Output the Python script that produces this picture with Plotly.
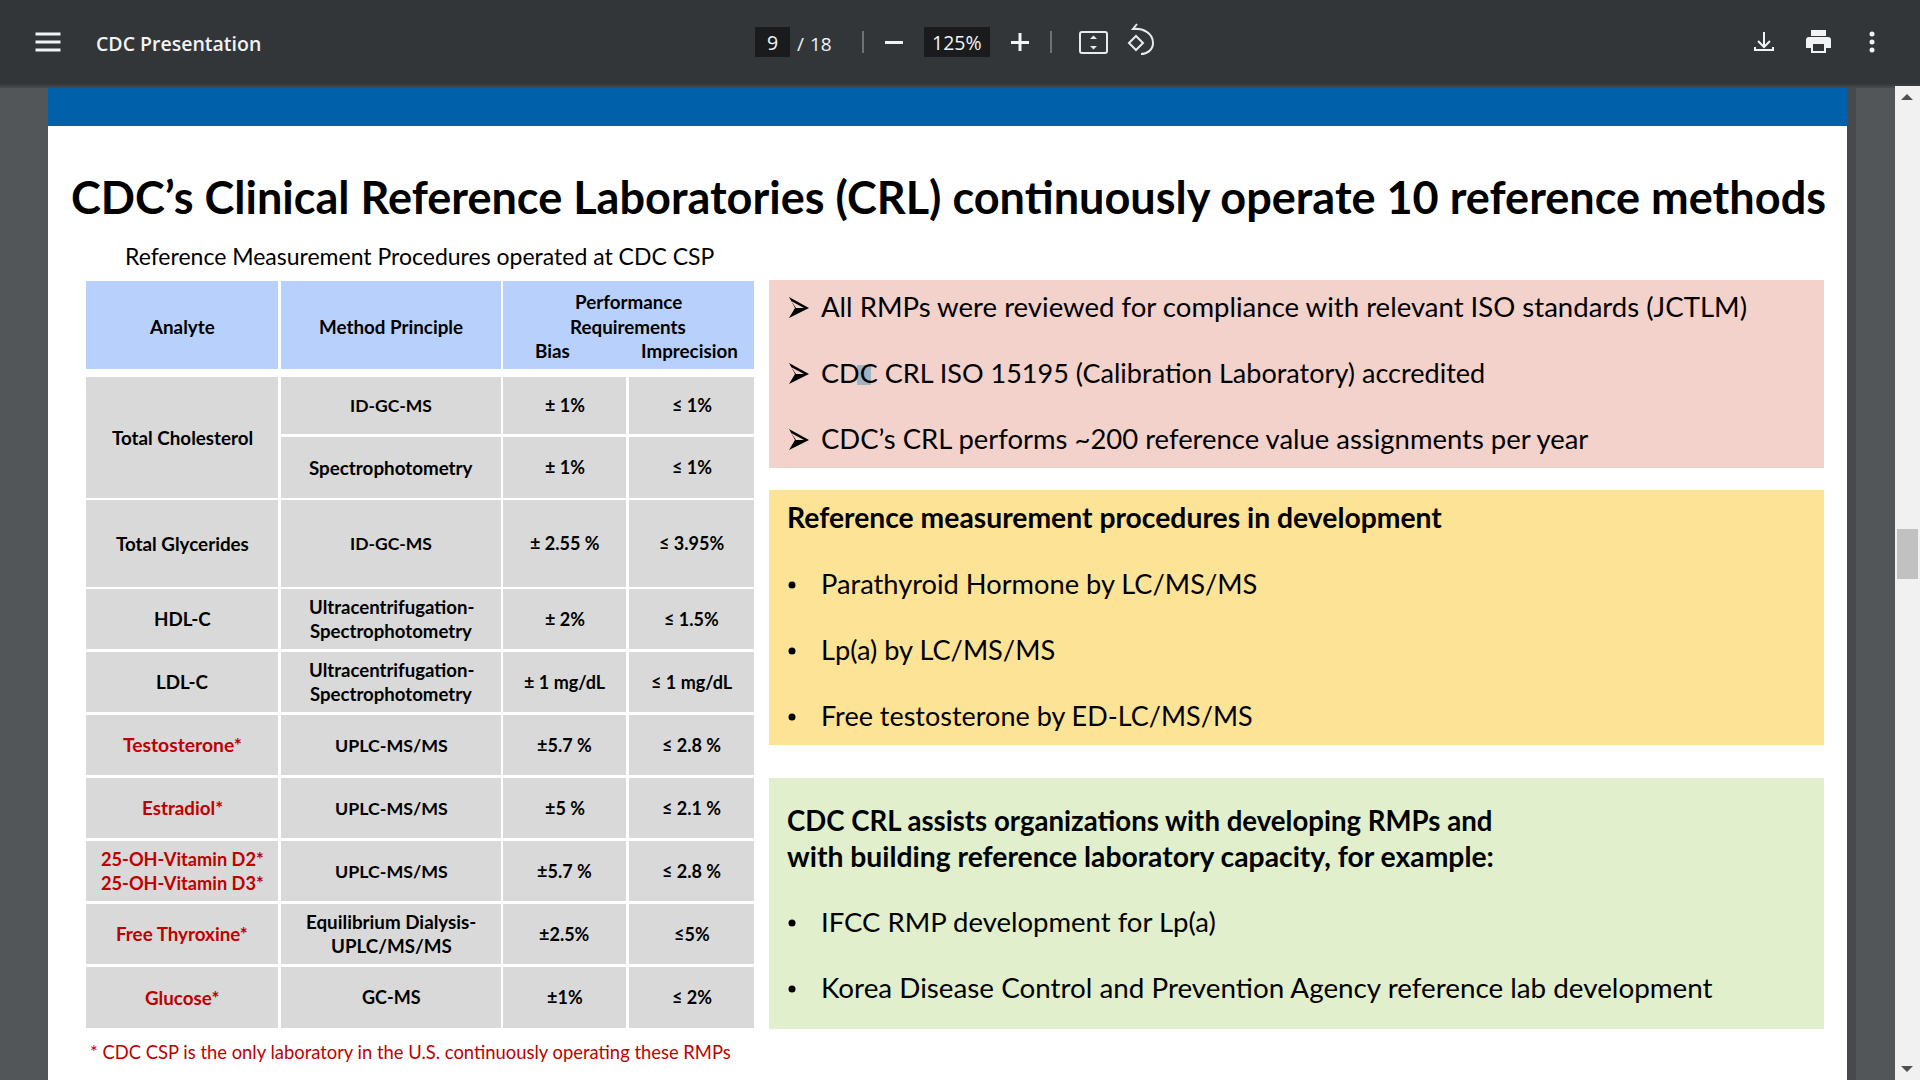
import plotly.graph_objects as go

FONT = "Lato"
UI_FONT = "Open Sans"

analytes = ["Total Cholesterol", "Total Glycerides", "HDL-C", "LDL-C", "Testosterone*", "Estradiol*",
            "25-OH-Vitamin D2*<br>25-OH-Vitamin D3*", "Free Thyroxine*", "Glucose*"]
analyte_rows = [(0, 1), (2, 2), (3, 3), (4, 4), (5, 5), (6, 6), (7, 7), (8, 8), (9, 9)]
methods = ["ID-GC-MS", "Spectrophotometry", "ID-GC-MS", "Ultracentrifugation-<br>Spectrophotometry",
           "Ultracentrifugation-<br>Spectrophotometry", "UPLC-MS/MS", "UPLC-MS/MS", "UPLC-MS/MS",
           "Equilibrium Dialysis-<br>UPLC/MS/MS", "GC-MS"]
bias = ["± 1%", "± 1%", "± 2.55 %", "± 2%", "± 1 mg/dL", "±5.7 %", "±5 %", "±5.7 %", "±2.5%", "±1%"]
imprecision = ["≤ 1%", "≤ 1%", "≤ 3.95%", "≤ 1.5%", "≤ 1 mg/dL", "≤ 2.8 %", "≤ 2.1 %", "≤ 2.8 %", "≤5%", "≤ 2%"]
n_black_analytes = 4

title = "CDC’s Clinical Reference Laboratories (CRL) continuously operate 10 reference methods"
subtitle = "Reference Measurement Procedures operated at CDC CSP"
footnote = "* CDC CSP is the only laboratory in the U.S. continuously operating these RMPs"
pink_items = ["All RMPs were reviewed for compliance with relevant ISO standards (JCTLM)",
              "CDC CRL ISO 15195 (Calibration Laboratory) accredited",
              "CDC’s CRL performs ~200 reference value assignments per year"]
yellow_head = "Reference measurement procedures in development"
yellow_items = ["Parathyroid Hormone by LC/MS/MS", "Lp(a) by LC/MS/MS", "Free testosterone by ED-LC/MS/MS"]
green_head = ["CDC CRL assists organizations with developing RMPs and",
              "with building reference laboratory capacity, for example:"]
green_items = ["IFCC RMP development for Lp(a)", "Korea Disease Control and Prevention Agency reference lab development"]

# page geometry, in screen pixels
COLS = [(86, 278), (281, 501), (503, 626), (629, 754)]
ROWS = [(377, 434), (437, 498), (500, 587), (589, 649), (652, 712), (715, 775), (778, 838), (841, 901), (904, 964),
        (967, 1028)]
PINK_Y = [308, 374, 440]
YELLOW_Y = [585, 651, 717]
GREEN_Y = [923, 989]

# Lato is not quite Calibri, so sizes are fitted per line to get the same widths
ANALYTE_SIZES = [18.8, 18.8, 18.8, 18.8, 19.3, 18.8, 18.2, 18.8, 18.8]
METHOD_SIZES = [17.5, 18.8, 17.5, 18.6, 18.6, 17.8, 17.8, 17.8, 18.8, 18]
PINK_SIZES = [27.55, 27.05, 27.45]
YELLOW_SIZES = [27.25, 27.2, 27]
GREEN_SIZES = [27.5, 27.8]

GREY = "#d9d9d9"
RED = "#c00000"
BAR = "#323639"
SIDE = "#525659"
TEXT_SHIFT = -2  # Lato sits lower than the original face

shapes = []
notes = []


def rect(x0, y0, x1, y1, color):
    shapes.append(dict(type="rect", x0=x0, y0=y0, x1=x1, y1=y1, fillcolor=color, line_width=0, layer="below"))


def path(d, fill=None, line=None, width=2):
    shapes.append(dict(type="path", path=d, fillcolor=fill or "rgba(0,0,0,0)", line=dict(color=line or "rgba(0,0,0,0)", width=width),
                       layer="below"))


def text(x, y, s, size, color="#000000", weight=400, anchor="left", font=FONT):
    notes.append(dict(x=x, y=y, text=s, showarrow=False, xanchor=anchor, yanchor="middle", align=anchor,
                      borderpad=0, font=dict(family=font, size=size, color=color, weight=weight)))


def cell_text(x, y, s, color="#000000", size=18.8):
    lines = s.split("<br>")
    for i, line in enumerate(lines):
        text(x, y - 0.5 + (i - (len(lines) - 1) / 2) * 24, line, size, color, 700, "center")


def dot(y):
    shapes.append(dict(type="circle", x0=788.5, x1=795.5, y0=y - 3.5, y1=y + 3.5, fillcolor="#000000", line_width=0, layer="below"))


# window
rect(0, 0, 1920, 1080, SIDE)
rect(48, 88, 1847, 1080, "#ffffff")
rect(48, 88, 1847, 126, "#0060a9")
rect(1847, 85, 1856, 1080, "#47494c")
rect(1895, 84, 1920, 1080, "#f1f1f1")
rect(1897, 529, 1918, 579, "#c1c1c1")
path("M1901,100 L1907,94 L1913,100 Z", fill="#505050")
path("M1901,1066 L1913,1066 L1907,1072 Z", fill="#505050")
rect(0, 84, 1920, 86, "#3a3d40")
rect(0, 86, 1895, 88, "#46494c")
rect(0, 0, 1920, 84, BAR)

# toolbar
for y in [34, 42, 50]:
    rect(35.5, y - 1.5, 60.5, y + 1.5, "#f1f3f4")
text(95, 43, "CDC Presentation", 19.5, "#f1f3f4", 600, font=UI_FONT)
rect(755, 27, 790, 57, "#191b1c")
text(772.5, 42.5, "9", 19.5, "#f1f3f4", anchor="center", font=UI_FONT)
text(796, 43.5, "/", 19, "#f1f3f4", font=UI_FONT)
text(821, 43.5, "18", 19, "#f1f3f4", anchor="center", font=UI_FONT)
rect(862, 31, 864, 53, "#6f7275")
rect(885, 41, 903, 44, "#f1f3f4")
rect(924, 27, 990, 57, "#191b1c")
text(957, 42.5, "125%", 19.5, "#f1f3f4", anchor="center", font=UI_FONT)
rect(1011, 41, 1029, 44, "#f1f3f4")
rect(1018.5, 33, 1021.5, 51, "#f1f3f4")
rect(1050, 31, 1052, 53, "#6f7275")
path("M1082,32 L1105,32 Q1107,32 1107,34 L1107,51 Q1107,53 1105,53 L1082,53 Q1080,53 1080,51 L1080,34 Q1080,32 1082,32 Z",
     line="#e8eaed", width=2)
path("M1090,39 L1097,39 L1093.5,35.5 Z", fill="#e8eaed")
path("M1090,46 L1097,46 L1093.5,49.5 Z", fill="#e8eaed")
path("M1129,43 L1136,36 L1143,43 L1136,50 Z", line="#e8eaed", width=2)
path("M1133,29 C1143,28 1153,33 1153,43 C1153,50 1147,54 1141,54", line="#e8eaed", width=2)
path("M1139,29 L1133,29 L1137,24", line="#e8eaed", width=2)
path("M1764,32 L1764,46 M1758,41 L1764,47 L1770,41", line="#f1f3f4", width=2)
path("M1755,47 L1755,50 L1773,50 L1773,47", line="#f1f3f4", width=2)
rect(1811, 30, 1826, 36, "#f1f3f4")
path("M1809,37 L1828,37 Q1831,37 1831,40 L1831,48 L1826,48 L1826,53 L1811,53 L1811,48 L1806,48 L1806,40 Q1806,37 1809,37 Z",
     fill="#f1f3f4")
rect(1813, 44, 1824, 51, BAR)
for y in [34, 42, 50]:
    shapes.append(dict(type="circle", x0=1869.5, x1=1874.5, y0=y - 2.5, y1=y + 2.5, fillcolor="#f1f3f4", line_width=0, layer="below"))

# slide heading
text(70, 197, title, 45.05, weight=700)
text(124, 256, subtitle, 23)

# table header
rect(COLS[0][0], 281, COLS[0][1], 369, "#b8d1fc")
rect(COLS[1][0], 281, COLS[1][1], 369, "#b8d1fc")
rect(COLS[2][0], 281, COLS[3][1], 369, "#b8d1fc")
cell_text(182, 327, "Analyte")
cell_text(391, 327, "Method Principle")
cell_text(628, 302, "Performance")
cell_text(628, 327, "Requirements")
cell_text(552, 351, "Bias")
cell_text(689, 351, "Imprecision")

# table body
for i, name in enumerate(analytes):
    top = ROWS[analyte_rows[i][0]][0]
    bottom = ROWS[analyte_rows[i][1]][1]
    rect(COLS[0][0], top, COLS[0][1], bottom, GREY)
    cell_text(182, (top + bottom) / 2, name, "#000000" if i < n_black_analytes else RED, ANALYTE_SIZES[i])
for i, (top, bottom) in enumerate(ROWS):
    mid = (top + bottom) / 2
    for col, values, size in zip(COLS[1:], [methods, bias, imprecision], [METHOD_SIZES[i], 18, 18]):
        rect(col[0], top, col[1], bottom, GREY)
        cell_text((col[0] + col[1]) / 2, mid, values[i], size=size)
text(89, 1052, footnote, 18.4, RED)

# right hand panels
rect(769, 280, 1824, 468, "#f2d2cb")
rect(769, 490, 1824, 745, "#fde395")
rect(769, 778, 1824, 1029, "#e1efcd")
rect(857, 365, 871, 385, "#9fb3c0")

for y, item, size in zip(PINK_Y, pink_items, PINK_SIZES):
    path(f"M789,{y - 11} L809,{y} L789,{y + 10} L795,{y} Z", fill="#000000")
    path(f"M791,{y - 7} L804,{y} L796,{y} Z", fill="#f2d2cb")
    text(820, y + TEXT_SHIFT, item, size)
text(786, 519 + TEXT_SHIFT, yellow_head, 28.3, weight=700)
for y, item, size in zip(YELLOW_Y, yellow_items, YELLOW_SIZES):
    dot(y)
    text(820, y + TEXT_SHIFT, item, size)
text(786, 822 + TEXT_SHIFT, green_head[0], 27.6, weight=700)
text(786, 858 + TEXT_SHIFT, green_head[1], 28.3, weight=700)
for y, item, size in zip(GREEN_Y, green_items, GREEN_SIZES):
    dot(y)
    text(820, y + TEXT_SHIFT, item, size)

fig = go.Figure()
fig.update_layout(
    width=1920,
    height=1080,
    margin=dict(l=0, r=0, t=0, b=0),
    paper_bgcolor=SIDE,
    plot_bgcolor=SIDE,
    showlegend=False,
    xaxis=dict(range=[0, 1920], visible=False, fixedrange=True),
    yaxis=dict(range=[1080, 0], visible=False, fixedrange=True),
    shapes=shapes,
    annotations=notes,
)
fig.write_html("out.html", config={"displayModeBar": False},
               post_script="document.body.style.margin='0';document.body.style.overflow='hidden';")
